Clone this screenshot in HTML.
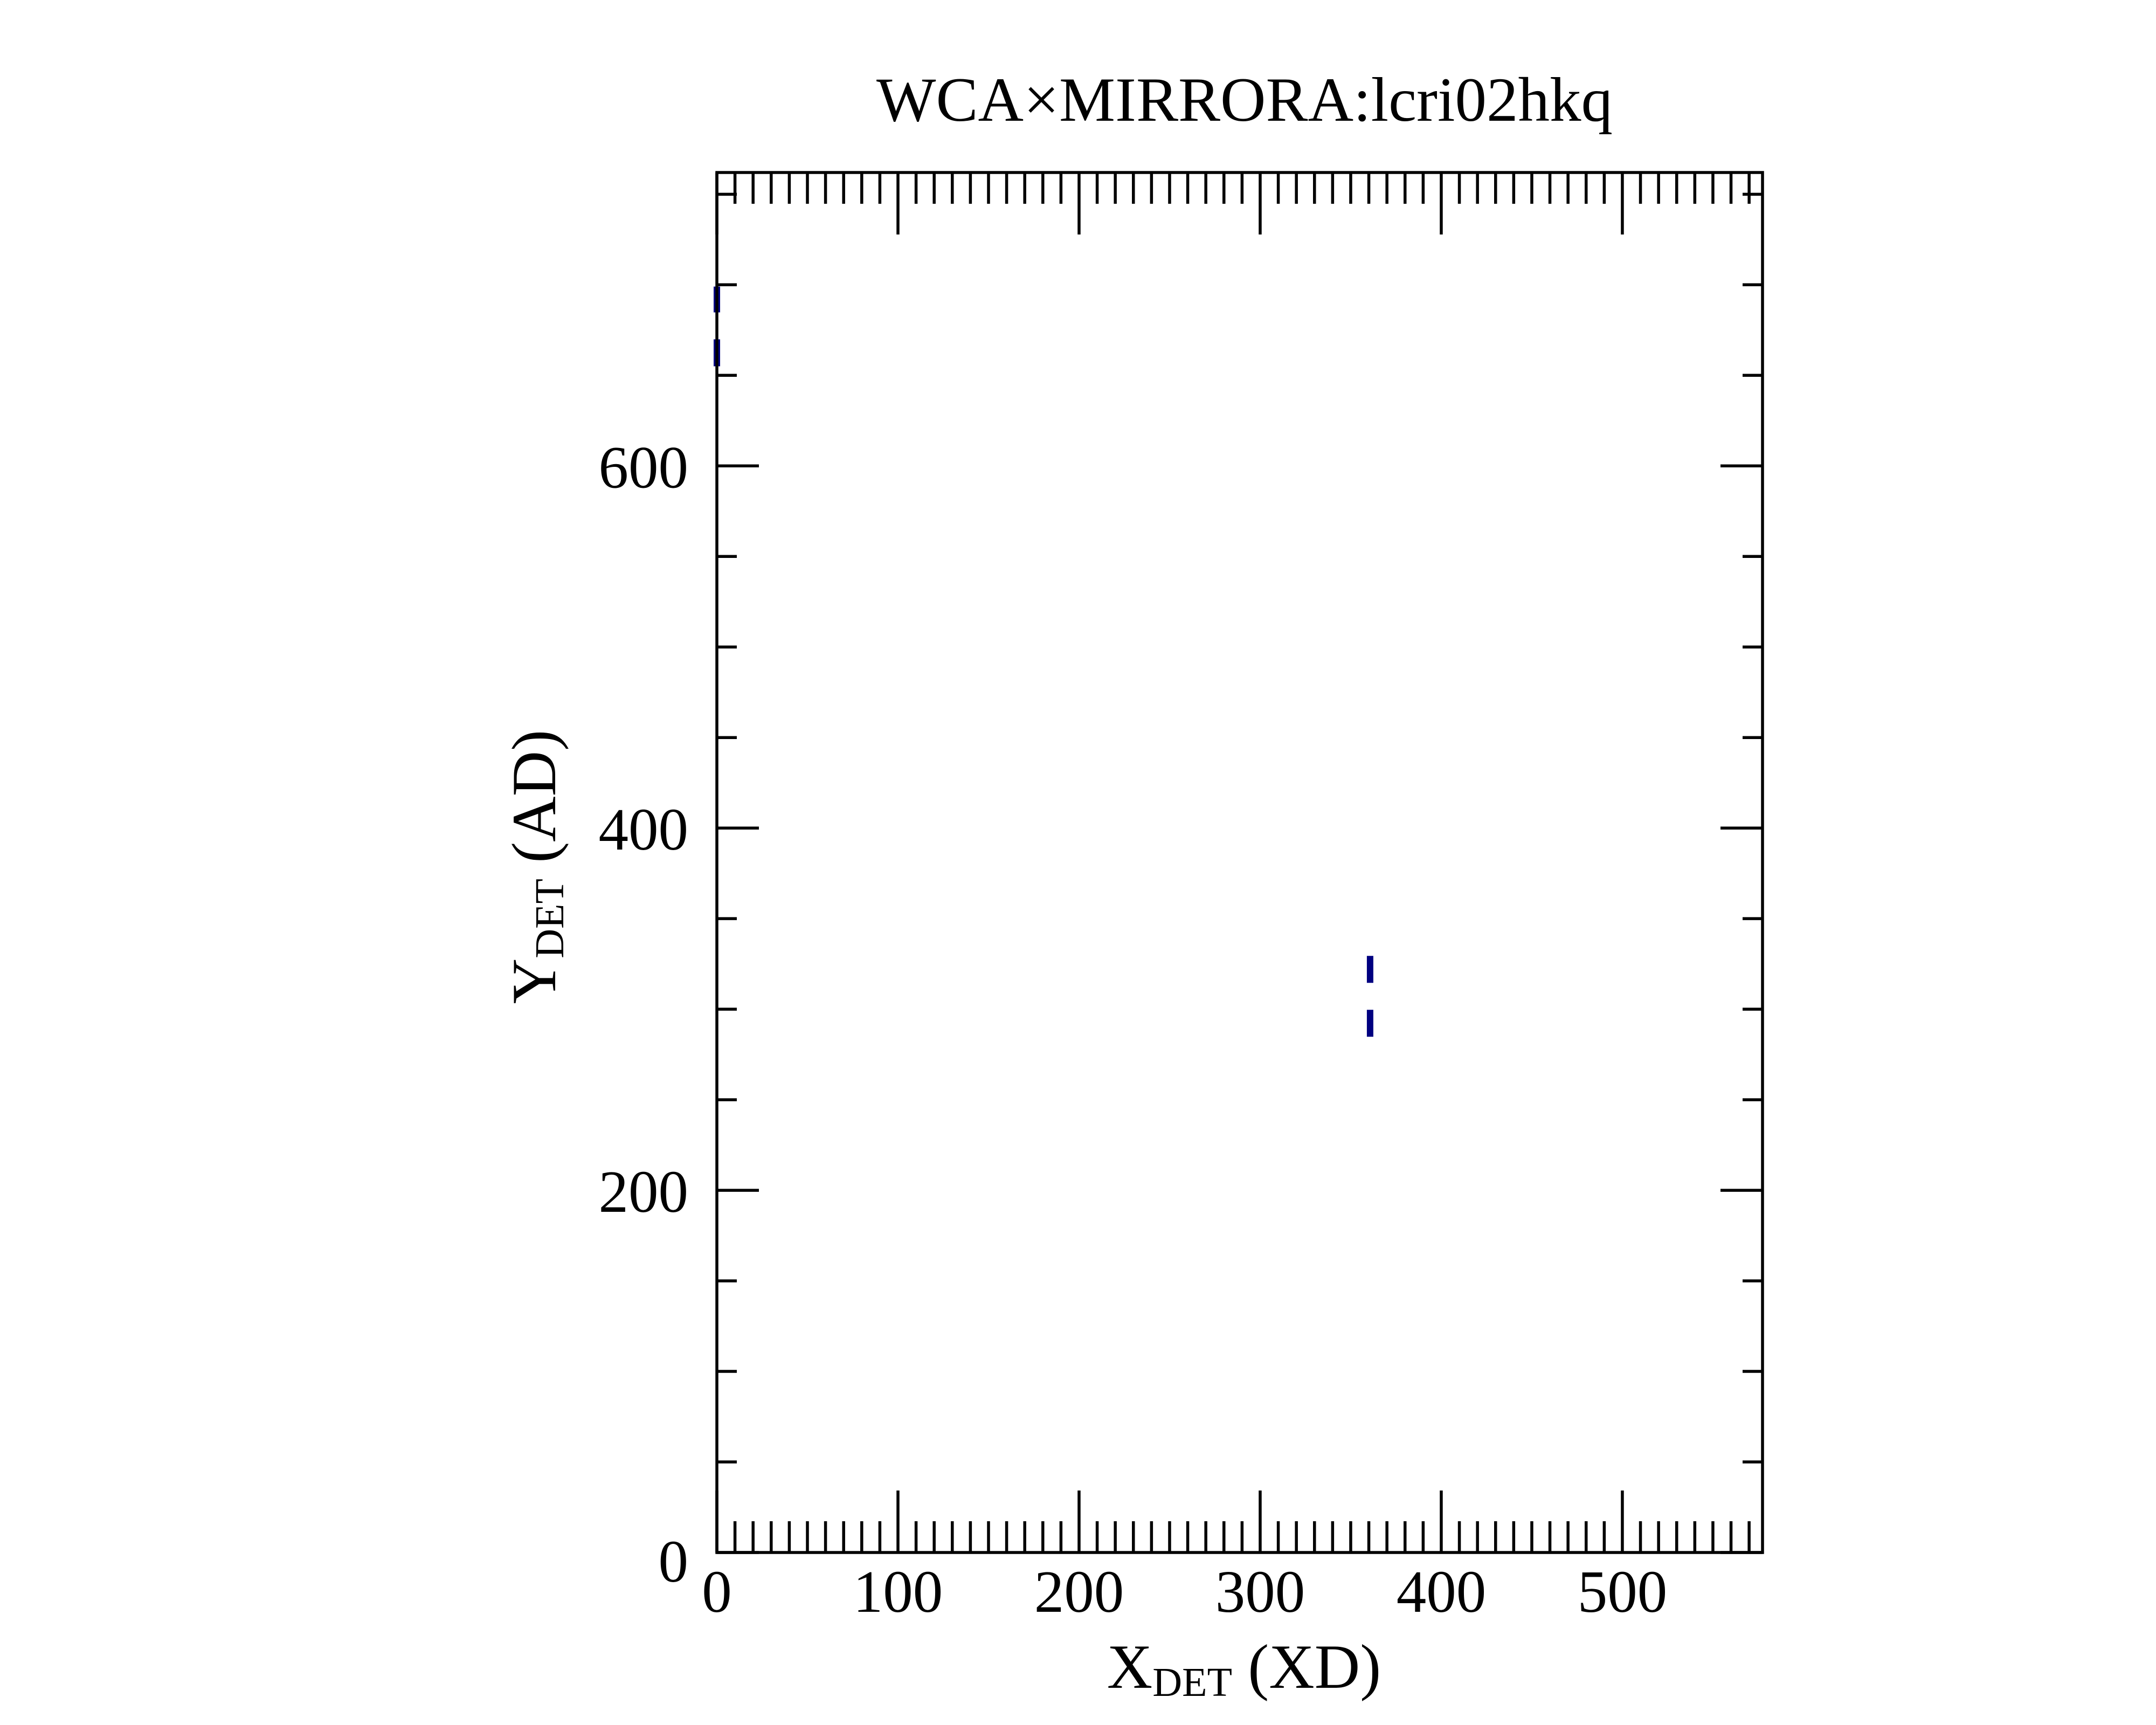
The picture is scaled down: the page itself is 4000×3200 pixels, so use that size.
<!DOCTYPE html>
<html><head><meta charset="utf-8"><style>
html,body{margin:0;padding:0;background:#fff;}
svg{display:block;font-family:"Liberation Serif",serif;}
</style></head><body>
<svg id="chart" width="4000" height="3200" viewBox="0 0 4000 3200" xmlns="http://www.w3.org/2000/svg">
<rect width="4000" height="3200" fill="#fff"/>
<text x="2309" y="224" font-size="117" text-anchor="middle">WCA×MIRRORA:lcri02hkq</text>
<g id="ticks"></g>
<g id="marks"></g>
<rect x="1330" y="320" width="1940" height="2560" fill="none" stroke="#000" stroke-width="5.5"/>
<text x="2308" y="3131" font-size="117" text-anchor="middle">X<tspan font-size="76" dy="15">DET</tspan><tspan dy="-15"> (XD)</tspan></text>
<text transform="translate(1030,1608) rotate(-90)" font-size="117" text-anchor="middle">Y<tspan font-size="76" dy="15">DET</tspan><tspan dy="-15"> (AD)</tspan></text>
</svg>
<script>
const xMajorTicks = [0,100,200,300,400,500];
const yMajorTicks = [0,200,400,600];
const xDomain = [0,577.4];
const yDomain = [0,762];
const seriesAX = [0,0];
const seriesAY = [655,699];
const seriesBX = [360.7,360.7];
const seriesBY = [284.8,329.5];

const L=1330,R=3270,T=320,B=2880;
function sx(v){return L+(v-xDomain[0])/(xDomain[1]-xDomain[0])*(R-L);}
function sy(v){return B-(v-yDomain[0])/(yDomain[1]-yDomain[0])*(B-T);}
const NS="http://www.w3.org/2000/svg";
const tg=document.getElementById('ticks');
function line(x1,y1,x2,y2,name){
  const l=document.createElementNS(NS,'line');
  l.setAttribute('x1',x1);l.setAttribute('y1',y1);l.setAttribute('x2',x2);l.setAttribute('y2',y2);
  l.setAttribute('stroke','#000');l.setAttribute('stroke-width','5.5');
  
  
  tg.appendChild(l);
}
function text(x,y,s,anchor,name){
  const t=document.createElementNS(NS,'text');
  t.setAttribute('x',x);t.setAttribute('y',y);t.setAttribute('font-size','111');
  t.setAttribute('text-anchor',anchor);t.textContent=s;
  
  
  tg.appendChild(t);
}
for(let v=0;v<=xDomain[1];v+=10){
  const major=v%100===0, x=sx(v), len=major?115:58;
  line(x,B,x,B-len,'x-tick');
  line(x,T,x,T+len,'x-tick-top');
}
for(let v=0;v<=yDomain[1];v+=50){
  const major=v%200===0, y=sy(v), len=major?78:37;
  line(L,y,L+len,y,'y-tick');
  line(R,y,R-len,y,'y-tick-right');
}
xMajorTicks.forEach(v=>text(sx(v),2990,String(v),'middle','x-tick-label'));
yMajorTicks.forEach(v=>text(1277,sy(v)+40+(v===0?14:0),String(v),'end','y-tick-label'));
const mg=document.getElementById('marks');
function series(xs,ys,name){
  const p=document.createElementNS(NS,'polyline');
  p.setAttribute('points',xs.map((x,i)=>sx(x)+','+sy(ys[i])).join(' '));
  p.setAttribute('fill','none');p.setAttribute('stroke','#000080');
  p.setAttribute('stroke-width','12');p.setAttribute('stroke-dasharray','50 50');
  
  
  mg.appendChild(p);
}
series(seriesAX,seriesAY,'series-a-dashed-line');
series(seriesBX,seriesBY,'series-b-dashed-line');
</script>
</body></html>
